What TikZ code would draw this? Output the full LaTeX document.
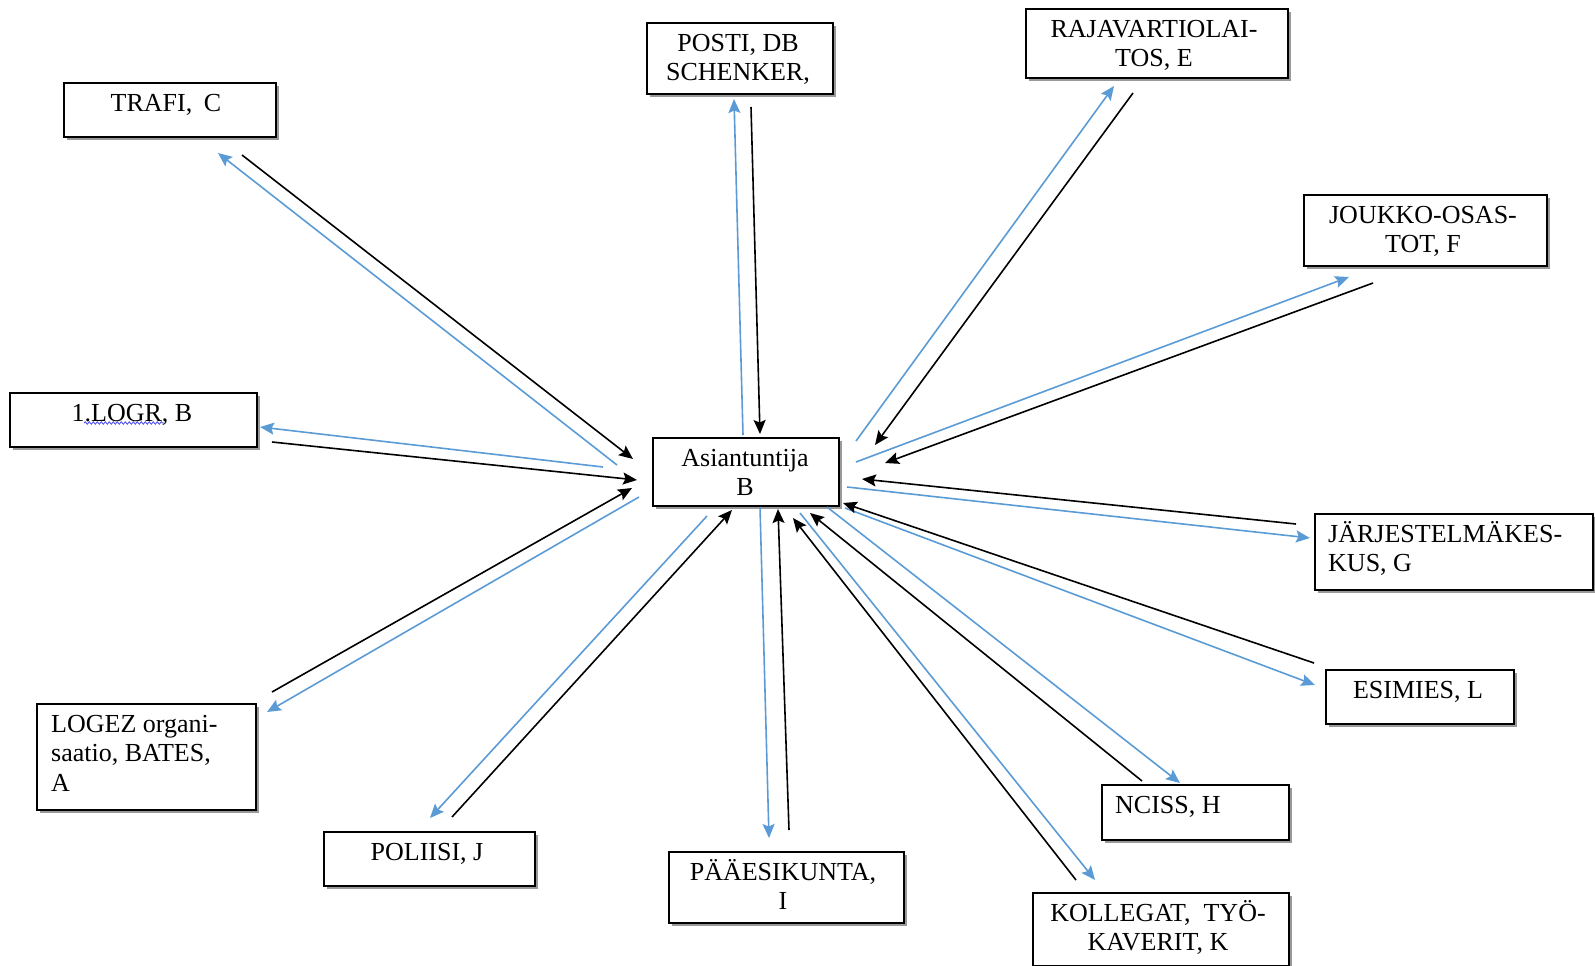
\documentclass[tikz,border=0pt]{standalone}
\usepackage{fontspec}
\setmainfont{Liberation Serif}
\usetikzlibrary{arrows.meta,shadows,decorations.pathmorphing}
\definecolor{wordblue}{RGB}{91,155,213}
\definecolor{spellblue}{RGB}{70,70,235}
\newcommand{\firststrut}{\rule{0pt}{24pt}}
\begin{document}
\begin{tikzpicture}[x=1pt,y=-1pt,
  box/.style={draw=black, line width=1.7pt, fill=white, anchor=north west, inner sep=0pt,
    drop shadow={shadow xshift=3pt, shadow yshift=-3.5pt, opacity=0.4, fill=black}},
  txt/.style={inner sep=0pt, anchor=north, align=center, font=\fontsize{26}{29.5}\selectfont},
  ltxt/.style={txt, anchor=north west, align=left},
  outflow/.style={draw=wordblue, line width=1.6pt, -{Stealth[length=14pt,width=12pt,inset=2.5pt]}},
  inflow/.style={draw=black, line width=1.6pt, -{Stealth[length=14pt,width=12pt,inset=2.5pt]}}]
\useasboundingbox (0,0) rectangle (1595,966);

% boxes
\node[box, minimum width=186pt, minimum height=68pt] (asi) at (652,437) {};
\node[box, minimum width=212pt, minimum height=54pt] (trafi) at (63,82) {};
\node[box, minimum width=247pt, minimum height=54pt] (logr) at (9,392) {};
\node[box, minimum width=219pt, minimum height=106pt] (logez) at (36,703) {};
\node[box, minimum width=211pt, minimum height=54pt] (poliisi) at (323,831) {};
\node[box, minimum width=235pt, minimum height=71pt] (paa) at (668,851) {};
\node[box, minimum width=256pt, minimum height=73pt] (kollegat) at (1032,892) {};
\node[box, minimum width=187pt, minimum height=55pt] (nciss) at (1101,784) {};
\node[box, minimum width=188pt, minimum height=54pt] (esimies) at (1325,669) {};
\node[box, minimum width=278pt, minimum height=76pt] (jarj) at (1314,513) {};
\node[box, minimum width=243pt, minimum height=71pt] (joukko) at (1303,194) {};
\node[box, minimum width=262pt, minimum height=69pt] (raja) at (1025,8) {};
\node[box, minimum width=186pt, minimum height=71pt] (posti) at (646,22) {};

% texts
\node[txt] (asi-t) at (745,442) {\firststrut Asiantuntija\\B};
\node[txt] (trafi-t) at (166,87) {\firststrut TRAFI,\hspace{0.45em}C};
\node[txt] (logr-t) at (132,397) {\firststrut 1.LOGR, B};
\node[ltxt] (logez-t) at (51,708) {\firststrut LOGEZ organi-\\saatio, BATES,\\A};
\node[txt] (poliisi-t) at (427,836) {\firststrut POLIISI, J};
\node[txt] (paa-t) at (783,856) {\firststrut PÄÄESIKUNTA,\\I};
\node[txt] (kollegat-t) at (1158,897) {\firststrut KOLLEGAT,\ \ TYÖ-\\KAVERIT, K};
\node[ltxt] (nciss-t) at (1115,789) {\firststrut NCISS, H};
\node[txt] (esimies-t) at (1418,674) {\firststrut ESIMIES, L};
\node[ltxt] (jarj-t) at (1328,518) {\firststrut JÄRJESTELMÄKES-\\KUS, G};
\node[txt] (joukko-t) at (1423,199) {\firststrut JOUKKO-OSAS-\\TOT, F};
\node[txt] (raja-t) at (1154,13) {\firststrut RAJAVARTIOLAI-\\TOS, E};
\node[txt] (posti-t) at (738,27) {\firststrut POSTI, DB\\SCHENKER,};

% spell-check underline
\draw[spellblue, line width=0.8pt, decorate, decoration={snake, amplitude=1.2pt, segment length=4pt}] (84,423) -- (164,423);

% connector end points
\coordinate (b-trafi-s) at (617,465);   \coordinate (b-trafi-e) at (218,153);
\coordinate (b-logr-s) at (603,467);    \coordinate (b-logr-e) at (260,427);
\coordinate (b-logez-s) at (639,497);   \coordinate (b-logez-e) at (267,712);
\coordinate (b-poliisi-s) at (707,516); \coordinate (b-poliisi-e) at (430,818);
\coordinate (b-paa-s) at (760,507);     \coordinate (b-paa-e) at (769,838);
\coordinate (b-kollegat-s) at (800,513);\coordinate (b-kollegat-e) at (1095,880);
\coordinate (b-nciss-s) at (827,507);   \coordinate (b-nciss-e) at (1180,783);
\coordinate (b-esimies-s) at (845,508); \coordinate (b-esimies-e) at (1315,685);
\coordinate (b-jarj-s) at (847,487);    \coordinate (b-jarj-e) at (1310,538);
\coordinate (b-joukko-s) at (856,462);  \coordinate (b-joukko-e) at (1349,277);
\coordinate (b-raja-s) at (856,441);    \coordinate (b-raja-e) at (1114,86);
\coordinate (b-posti-s) at (743,435);   \coordinate (b-posti-e) at (734,99);

\coordinate (k-trafi-s) at (242,155);   \coordinate (k-trafi-e) at (633,459);
\coordinate (k-logr-s) at (272,442);    \coordinate (k-logr-e) at (637,480);
\coordinate (k-logez-s) at (272,692);   \coordinate (k-logez-e) at (632,488);
\coordinate (k-poliisi-s) at (452,817); \coordinate (k-poliisi-e) at (732,510);
\coordinate (k-paa-s) at (789,830);     \coordinate (k-paa-e) at (778,509);
\coordinate (k-kollegat-s) at (1076,880);\coordinate (k-kollegat-e) at (793,518);
\coordinate (k-nciss-s) at (1142,781);  \coordinate (k-nciss-e) at (810,513);
\coordinate (k-esimies-s) at (1314,663);\coordinate (k-esimies-e) at (843,503);
\coordinate (k-jarj-s) at (1296,524);   \coordinate (k-jarj-e) at (862,479);
\coordinate (k-joukko-s) at (1373,283); \coordinate (k-joukko-e) at (885,463);
\coordinate (k-raja-s) at (1133,93);    \coordinate (k-raja-e) at (875,445);
\coordinate (k-posti-s) at (751,107);   \coordinate (k-posti-e) at (760,434);

% connectors
\foreach \n in {trafi,logr,logez,poliisi,paa,kollegat,nciss,esimies,jarj,joukko,raja,posti}{
  \draw[outflow] (b-\n-s) -- (b-\n-e);
  \draw[inflow] (k-\n-s) -- (k-\n-e);
}
\end{tikzpicture}
\end{document}
